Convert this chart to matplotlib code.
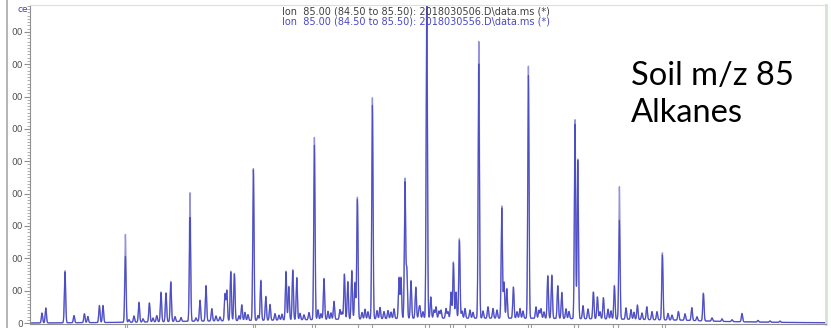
import numpy as np
import matplotlib.pyplot as plt
from matplotlib.ticker import MultipleLocator

# Picos principales (tiempo de retencion en min, altura en unidades de eje)
rt = [2.10, 2.29, 3.25, 3.70, 4.22, 4.39, 4.97, 5.15, 6.27, 6.70, 6.95, 7.47,
      7.84, 8.05, 8.30, 8.54, 9.50, 10.00, 10.30, 10.59, 11.25, 11.34, 11.54,
      11.72, 12.09, 12.67, 13.04, 13.29, 13.50, 14.30, 14.44, 14.64, 14.84,
      15.72, 16.20, 16.70, 17.22, 17.39, 17.59, 17.75, 17.87, 18.62, 19.95,
      20.05, 20.25, 20.34, 20.55, 20.79, 21.34, 21.54, 22.55, 22.67, 22.80,
      22.97, 23.94, 25.09, 25.20, 25.34, 25.67, 26.42, 27.39, 27.59, 27.89,
      28.09, 28.75, 28.89, 29.67, 29.87, 30.17, 30.72, 30.97, 31.87, 32.34,
      33.12, 33.92, 34.59, 35.17, 37.10, 39.00]
alt_a = [0.31, 0.46, 1.61, 0.22, 0.28, 0.19, 0.53, 0.53, 2.72, 0.19, 0.62, 0.59,
         0.19, 0.92, 0.89, 1.24, 3.97, 0.65, 1.10, 0.38, 0.83, 0.94, 1.53,
         1.46, 0.49, 4.70, 1.24, 0.74, 0.49, 1.51, 1.04, 1.55, 1.31,
         5.63, 1.27, 0.56, 1.40, 1.17, 1.51, 1.14, 3.77, 6.83, 1.27,
         1.27, 4.31, 1.53, 1.17, 0.97, 9.95, 0.66, 0.81, 1.74, 0.81,
         2.46, 8.55, 3.47, 1.12, 0.92, 0.97, 7.79, 1.33, 1.35, 1.02,
         0.81, 6.16, 4.94, 0.83, 0.68, 0.66, 1.04, 4.10, 0.45, 0.40,
         2.07, 0.27, 0.40, 0.86, 0.26, 0.04]
alt_b = [0.30, 0.46, 1.57, 0.22, 0.27, 0.19, 0.52, 0.52, 2.04, 0.19, 0.60, 0.58,
         0.19, 0.90, 0.88, 1.20, 3.21, 0.64, 1.08, 0.38, 0.82, 0.92, 1.50,
         1.44, 0.48, 4.66, 1.22, 0.73, 0.48, 1.48, 1.02, 1.52, 1.29,
         5.39, 1.25, 0.55, 1.38, 1.15, 1.48, 1.12, 3.70, 6.60, 1.25,
         1.25, 4.20, 1.50, 1.15, 0.95, 9.95, 0.65, 0.80, 1.70, 0.80,
         2.40, 7.86, 3.40, 1.10, 0.90, 0.95, 7.50, 1.30, 1.32, 1.00,
         0.80, 6.02, 4.90, 0.82, 0.67, 0.65, 1.02, 3.06, 0.44, 0.39,
         2.00, 0.26, 0.39, 0.84, 0.25, 0.04]

# Picos pequenos de la linea base (iguales en ambas trazas)
rt_menor = [6.45, 7.15, 7.65, 8.75, 9.05, 9.80, 10.80, 11.00, 11.95, 12.25,
            12.40, 12.90, 13.75, 13.95, 14.10, 15.00, 15.20, 15.45, 15.90, 16.05,
            16.40, 16.55, 17.00, 17.10, 18.10, 18.25, 18.40, 18.85, 19.00, 19.20,
            19.40, 19.55, 19.70, 20.95, 21.00, 21.15, 21.70, 21.80, 21.95, 22.05,
            22.30, 22.40, 23.10, 23.25, 23.50, 23.65, 24.15, 24.40, 24.65, 24.85,
            25.85, 26.00, 26.15, 26.80, 26.95, 27.05, 27.20, 28.30, 28.45, 29.15,
            29.40, 30.00, 30.40, 30.55, 31.30, 31.55, 31.70, 32.10, 32.60, 32.85,
            33.40, 33.60, 34.25, 34.85, 35.60, 36.10, 36.60, 37.90, 38.50]
alt_menor = [0.08, 0.10, 0.12, 0.15, 0.12, 0.10, 0.15, 0.12, 0.15, 0.25,
             0.18, 0.15, 0.20, 0.15, 0.18, 0.20, 0.15, 0.22, 0.30, 0.18,
             0.25, 0.20, 0.30, 0.22, 0.20, 0.30, 0.22, 0.25, 0.35, 0.22,
             0.25, 0.20, 0.30, 0.22, 0.30, 0.20, 0.25, 0.35, 0.22, 0.25,
             0.30, 0.20, 0.22, 0.30, 0.25, 0.18, 0.22, 0.35, 0.30, 0.25,
             0.20, 0.30, 0.22, 0.35, 0.25, 0.30, 0.20, 0.30, 0.22, 0.40,
             0.30, 0.22, 0.30, 0.25, 0.35, 0.30, 0.22, 0.20, 0.25, 0.25,
             0.20, 0.15, 0.20, 0.12, 0.10, 0.08, 0.06, 0.05, 0.04]

# Linea base
base_rt = [1.5, 6.0, 10.0, 15.0, 21.0, 26.0, 30.0, 34.0, 36.0, 39.0, 41.3]
base_nivel = [0.0, 0.02, 0.06, 0.10, 0.15, 0.15, 0.13, 0.09, 0.05, 0.02, 0.01]

# Marcas del eje x
marcas_x = [6.25, 6.35, 12.65, 12.75, 15.6, 15.75, 17.9, 18.6, 21.25, 21.45,
            22.5, 22.65, 23.25, 26.4, 26.55, 28.7, 28.9, 30.65, 30.9, 33.1, 33.25]

t = np.arange(1.5, 41.3, 0.004)
sigma = 0.032


def traza(alturas):
    y = np.interp(t, base_rt, base_nivel)
    for r, h in zip(rt, alturas):
        y += h * np.exp(-0.5 * ((t - r) / sigma) ** 2)
    for r, h in zip(rt_menor, alt_menor):
        y += h * np.exp(-0.5 * ((t - r) / sigma) ** 2)
    return y


fig = plt.figure(figsize=(8.31, 3.28), dpi=100)
ax = fig.add_axes([30 / 831, 4 / 328, 796 / 831, 319 / 328])

ax.plot(t, traza(alt_a), color='#9494dc', lw=1.0)
ax.plot(t, traza(alt_b), color='#4646c4', lw=0.8, alpha=0.9)

ax.set_xlim(1.5, 41.3)
ax.set_ylim(-0.03, 9.83)

ax.yaxis.set_major_locator(MultipleLocator(1))
ax.yaxis.set_minor_locator(MultipleLocator(0.1))
ax.set_yticklabels(['0' if v == 0 else '00' for v in ax.get_yticks()])
ax.tick_params(axis='y', which='major', length=4, color='#909090',
               labelsize=6.5, labelcolor='#505050', pad=1)
ax.tick_params(axis='y', which='minor', length=2, color='#a0a0a0')

ax.set_xticks(marcas_x)
ax.set_xticklabels([])
ax.tick_params(axis='x', length=4, color='#a0a0a0')

for lado in ['left', 'bottom']:
    ax.spines[lado].set_color('#909090')
for lado in ['top', 'right']:
    ax.spines[lado].set_color('#d6e2d6')
ax.spines['right'].set_linewidth(2)

fig.text(17 / 831, 1 - 10 / 328, 'ce', color='#4040c0', fontsize=6.5,
         va='center')
fig.text(282 / 831, 1 - 12 / 328,
         'Ion  85.00 (84.50 to 85.50): 2018030506.D\\data.ms (*)',
         color='#404040', fontsize=7, va='center')
fig.text(282 / 831, 1 - 21 / 328,
         'Ion  85.00 (84.50 to 85.50): 2018030556.D\\data.ms (*)',
         color='#4848c8', fontsize=7, va='center')
fig.text(631 / 831, 1 - 85 / 328, 'Soil m/z 85', color='black',
         fontsize=23.5, family='Lato', va='baseline')
fig.text(631 / 831, 1 - 122 / 328, 'Alkanes', color='black',
         fontsize=23.5, family='Lato', va='baseline')

fig.add_artist(plt.Line2D([7 / 831, 7 / 831], [0, 1], color='#a8a8a8', lw=1.2))

plt.savefig('out.png', dpi=100)
